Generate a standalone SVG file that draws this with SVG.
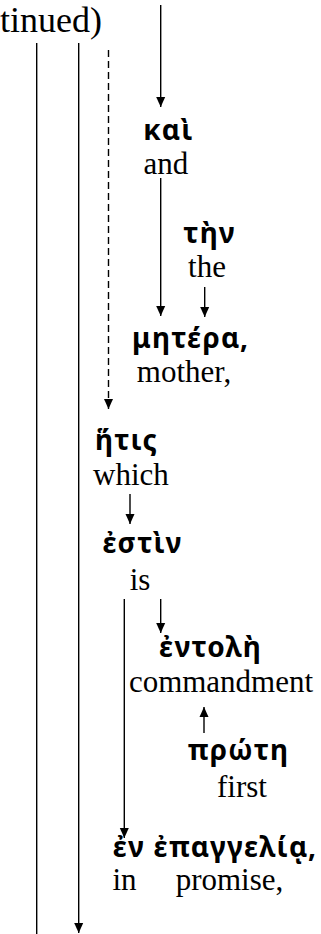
<svg xmlns="http://www.w3.org/2000/svg" width="321" height="934" viewBox="0 0 321 934">
<defs>
<marker id="ah" markerWidth="10" markerHeight="10" viewBox="0 0 10 10" refX="10" refY="5" orient="auto" markerUnits="userSpaceOnUse">
<path d="M0,0.5 L10,5 L0,9.5 Z" fill="#000"/>
</marker>
<style>
.gk{font-family:'Noto Sans','DejaVu Sans',sans-serif;font-weight:bold;font-size:28px;letter-spacing:1.2px;fill:#000;text-anchor:middle}
.en{font-family:'Liberation Serif',serif;font-size:31px;fill:#000;text-anchor:middle}
.ln{stroke:#000;stroke-width:1.4;fill:none}
.ar{stroke:#000;stroke-width:1.4;fill:none;marker-end:url(#ah)}
.da{stroke:#000;stroke-width:1.4;fill:none;stroke-dasharray:7 4;marker-end:url(#ah)}
</style>
</defs>
<text id="title" x="102" y="32" font-family="Liberation Serif, serif" font-size="36" text-anchor="end">(continued)</text>
<g id="connectors">
<line class="ln" x1="36.7" y1="43" x2="36.7" y2="934"/>
<line class="ar" x1="78.7" y1="43" x2="78.7" y2="933"/>
<line class="da" x1="108.5" y1="50" x2="108.5" y2="409"/>
<line class="ar" x1="160.7" y1="5" x2="160.7" y2="107"/>
<line class="ar" x1="160.7" y1="178" x2="160.7" y2="316"/>
<line class="ar" x1="204.7" y1="287" x2="204.7" y2="317"/>
<line class="ar" x1="130" y1="494" x2="130" y2="524"/>
<line class="ar" x1="124.3" y1="599" x2="124.3" y2="838"/>
<line class="ar" x1="160.7" y1="599" x2="160.7" y2="633"/>
<line class="ar" x1="204" y1="733" x2="204" y2="707"/>
</g>
<g id="kai"><text class="gk" x="168.5" y="140">καὶ</text><text class="en" x="166" y="174">and</text></g>
<g id="ten"><text class="gk" x="209.5" y="243">τὴν</text><text class="en" x="207" y="277">the</text></g>
<g id="metera"><text class="gk" x="190.5" y="348">μητέρα,</text><text class="en" x="184" y="382">mother,</text></g>
<g id="hetis"><text class="gk" x="126.5" y="450">ἥτις</text><text class="en" x="131" y="485">which</text></g>
<g id="estin"><text class="gk" x="142.5" y="553">ἐστὶν</text><text class="en" x="140" y="590">is</text></g>
<g id="entole"><text class="gk" x="210.5" y="657">ἐντολὴ</text><text class="en" x="221" y="692">commandment</text></g>
<g id="prote"><text class="gk" x="238.5" y="760">πρώτη</text><text class="en" x="242" y="797">first</text></g>
<g id="epangelia"><text class="gk" x="215" y="857">ἐν ἐπαγγελίᾳ,</text><text class="en" x="124.5" y="890">in</text><text class="en" x="229.5" y="890">promise,</text></g>
</svg>
